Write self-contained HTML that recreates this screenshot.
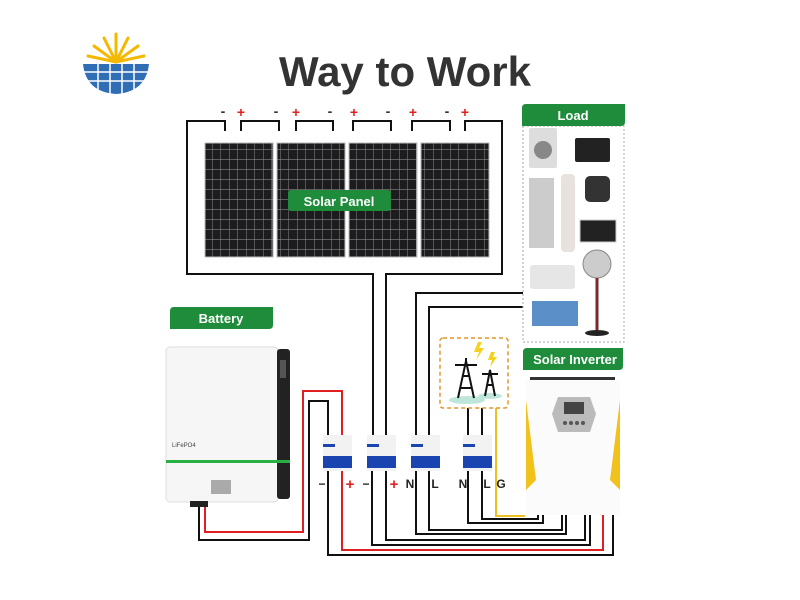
<!DOCTYPE html>
<html><head><meta charset="utf-8"><style>
html,body{margin:0;padding:0;background:#fff;}
svg{display:block;font-family:"Liberation Sans",sans-serif;}
</style></head><body>
<svg width="800" height="600" viewBox="0 0 800 600" xmlns="http://www.w3.org/2000/svg">
<defs>
<pattern id="cells" width="8.5" height="10" patternUnits="userSpaceOnUse">
<rect width="8.5" height="10" fill="#1c1c1e"/>
<rect x="8" width="0.6" height="10" fill="#8a8a8a"/>
<rect y="9.4" width="8.5" height="0.6" fill="#8a8a8a"/>
</pattern>
</defs>
<!-- logo -->
<g>
<g stroke="#f5b800" stroke-width="3" stroke-linecap="round">
<line x1="116" y1="62" x2="116" y2="34"/><line x1="116" y1="62" x2="104" y2="38"/><line x1="116" y1="62" x2="128" y2="38"/>
<line x1="116" y1="62" x2="94" y2="46"/><line x1="116" y1="62" x2="138" y2="46"/><line x1="116" y1="62" x2="88" y2="56"/><line x1="116" y1="62" x2="144" y2="56"/>
</g>
<path d="M83 64 H149 Q146 92 116 94 Q86 92 83 64Z" fill="#2f6db5"/>
<g stroke="#fff" stroke-width="1.5"><line x1="83" y1="72" x2="149" y2="72"/><line x1="84" y1="81" x2="148" y2="81"/><line x1="98" y1="64" x2="98" y2="94"/><line x1="110" y1="64" x2="110" y2="94"/><line x1="122" y1="64" x2="122" y2="94"/><line x1="134" y1="64" x2="134" y2="94"/></g>
</g>
<text x="405" y="86" text-anchor="middle" font-size="42" font-weight="bold" fill="#333">Way to Work</text>

<!-- solar panels -->
<rect x="205" y="143" width="68" height="114" fill="url(#cells)" stroke="#bbb"/>
<rect x="277" y="143" width="68" height="114" fill="url(#cells)" stroke="#bbb"/>
<rect x="349" y="143" width="68" height="114" fill="url(#cells)" stroke="#bbb"/>
<rect x="421" y="143" width="68" height="114" fill="url(#cells)" stroke="#bbb"/>
<rect x="288" y="190" width="103" height="21" rx="3" fill="#1e8c3a"/>
<text x="339" y="206" text-anchor="middle" font-size="13" font-weight="bold" fill="#fff">Solar Panel</text>

<!-- wires -->
<g fill="none" stroke="#111" stroke-width="2">
<polyline points="225,131 225,121 187,121 187,274 373,274 373,437"/>
<polyline points="241,131 241,121 279,121 279,131"/>
<polyline points="296,131 296,121 333,121 333,131"/>
<polyline points="353,131 353,121 391,121 391,131"/>
<polyline points="412,131 412,121 450,121 450,131"/>
<polyline points="465,131 465,121 502,121 502,274 386,274 386,437"/>
<polyline points="416,437 416,293 523,293"/>
<polyline points="429,437 429,307 523,307"/>
<polyline points="468,437 468,408"/>
<polyline points="482,437 482,408"/>
<polyline points="199,505 199,540 309,540 309,401 328,401 328,437"/>
<polyline points="328,470 328,555 613,555 613,515"/>
<polyline points="372,470 372,545 590,545 590,515"/>
<polyline points="386,470 386,540 585,540 585,515"/>
<polyline points="416,470 416,534 566,534 566,515"/>
<polyline points="429,470 429,530 562,530 562,515"/>
<polyline points="468,470 468,523 543,523 543,515"/>
<polyline points="482,470 482,519 538,519 538,515"/>
</g>
<g fill="none" stroke="#e02020" stroke-width="2">
<polyline points="205,505 205,532 303,532 303,391 342,391 342,437"/>
<polyline points="342,470 342,550 603,550 603,515"/>
</g>
<polyline points="496,408 496,516 525,516" fill="none" stroke="#f0c020" stroke-width="2"/>
<g font-size="14" font-weight="bold">
<text x="223" y="116" text-anchor="middle" fill="#333">-</text><text x="241" y="117" text-anchor="middle" fill="#d22">+</text>
<text x="276" y="116" text-anchor="middle" fill="#333">-</text><text x="296" y="117" text-anchor="middle" fill="#d22">+</text>
<text x="330" y="116" text-anchor="middle" fill="#333">-</text><text x="354" y="117" text-anchor="middle" fill="#d22">+</text>
<text x="388" y="116" text-anchor="middle" fill="#333">-</text><text x="413" y="117" text-anchor="middle" fill="#d22">+</text>
<text x="447" y="116" text-anchor="middle" fill="#333">-</text><text x="465" y="117" text-anchor="middle" fill="#d22">+</text>
</g>

<!-- load box -->
<rect x="523" y="126" width="101" height="216" fill="#fff" stroke="#aaa" stroke-dasharray="2,2"/>
<path d="M522 108 Q522 104 526 104 H625 V122 Q625 126 621 126 H522Z" fill="#1e8c3a"/>
<text x="573" y="120" text-anchor="middle" font-size="13" font-weight="bold" fill="#fff">Load</text>
<rect x="529" y="128" width="28" height="40" rx="2" fill="#ddd"/><circle cx="543" cy="150" r="9" fill="#888"/>
<rect x="575" y="138" width="35" height="24" rx="2" fill="#222"/>
<rect x="529" y="178" width="25" height="70" fill="#ccc"/>
<rect x="561" y="174" width="14" height="78" rx="4" fill="#e8e2df"/>
<rect x="585" y="176" width="25" height="26" rx="5" fill="#333"/>
<rect x="580" y="220" width="36" height="22" fill="#222" stroke="#ccc"/>
<rect x="530" y="265" width="45" height="24" rx="3" fill="#e6e6e6"/>
<circle cx="597" cy="264" r="14" fill="#ccc" stroke="#888"/>
<line x1="597" y1="278" x2="597" y2="330" stroke="#7a2a2a" stroke-width="3"/>
<ellipse cx="597" cy="333" rx="12" ry="3" fill="#222"/>
<rect x="532" y="301" width="46" height="25" fill="#5a8fc8"/>

<!-- grid -->
<rect x="440" y="338" width="68" height="70" rx="3" fill="#fff" stroke="#e0952a" stroke-width="1.5" stroke-dasharray="4,3"/>
<ellipse cx="467" cy="400" rx="18" ry="4" fill="#bfe6da"/><ellipse cx="490" cy="396" rx="12" ry="3" fill="#bfe6da"/>
<g stroke="#111" stroke-width="2" fill="none">
<path d="M458 398 L466 361 L474 398 M460 388 H472 M462 376 H470 M455 365 H477 M466 361 V358"/>
<path d="M485 396 L490 370 L495 396 M482 374 H498 M487 385 H493"/>
</g>
<path d="M478 342 L474 352 L479 352 L476 360 L484 348 L479 348 L482 342Z" fill="#f2d21c"/>
<path d="M491 352 L488 360 L492 360 L490 367 L497 357 L493 357 L495 352Z" fill="#f2d21c"/>

<!-- inverter -->
<path d="M523 352 Q523 348 527 348 H623 V366 Q623 370 619 370 H523Z" fill="#1e8c3a"/>
<text x="575" y="364" text-anchor="middle" font-size="13" font-weight="bold" fill="#fff">Solar Inverter</text>
<rect x="530" y="377" width="85" height="3" fill="#333"/>
<rect x="526" y="380" width="94" height="135" fill="#fbfbfb"/>
<path d="M526 400 L536 480 L526 490Z" fill="#f2c21c"/>
<path d="M620 400 L610 480 L620 490Z" fill="#f2c21c"/>
<polygon points="558,397 590,397 596,414 590,432 558,432 552,414" fill="#bbb"/>
<rect x="564" y="402" width="20" height="12" fill="#444"/>
<g fill="#555"><circle cx="565" cy="423" r="2"/><circle cx="571" cy="423" r="2"/><circle cx="577" cy="423" r="2"/><circle cx="583" cy="423" r="2"/></g>

<!-- battery -->
<path d="M170 311 Q170 307 174 307 H273 V325 Q273 329 269 329 H170Z" fill="#1e8c3a"/>
<text x="221" y="323" text-anchor="middle" font-size="13" font-weight="bold" fill="#fff">Battery</text>
<rect x="166" y="347" width="112" height="155" rx="4" fill="#f6f6f6" stroke="#ddd"/>
<rect x="277" y="349" width="13" height="150" rx="3" fill="#222"/>
<rect x="280" y="360" width="6" height="18" fill="#555"/>
<rect x="166" y="461" width="0" height="0"/>
<rect x="166" y="460" width="124" height="3" fill="#28b040"/>
<text x="172" y="447" font-size="6" fill="#444">LiFePO4</text>
<rect x="211" y="480" width="20" height="14" fill="#aaa"/>
<rect x="190" y="501" width="18" height="6" fill="#222"/>

<!-- breakers -->
<g>
<rect x="323" y="435" width="29" height="36" fill="#f2f2f2"/><rect x="323" y="456" width="29" height="12" fill="#1a45b0"/>
<rect x="367" y="435" width="29" height="36" fill="#f2f2f2"/><rect x="367" y="456" width="29" height="12" fill="#1a45b0"/>
<rect x="411" y="435" width="29" height="36" fill="#f2f2f2"/><rect x="411" y="456" width="29" height="12" fill="#1a45b0"/>
<rect x="463" y="435" width="29" height="36" fill="#f2f2f2"/><rect x="463" y="456" width="29" height="12" fill="#1a45b0"/>
<g fill="#1a45b0"><rect x="323" y="444" width="12" height="3"/><rect x="367" y="444" width="12" height="3"/><rect x="411" y="444" width="12" height="3"/><rect x="463" y="444" width="12" height="3"/></g>
</g>
<g font-size="12" font-weight="bold">
<text x="322" y="488" text-anchor="middle" fill="#222">−</text>
<text x="350" y="489" text-anchor="middle" fill="#d22" font-size="15">+</text>
<text x="366" y="488" text-anchor="middle" fill="#222">−</text>
<text x="394" y="489" text-anchor="middle" fill="#d22" font-size="15">+</text>
<text x="410" y="488" text-anchor="middle" fill="#222">N</text>
<text x="435" y="488" text-anchor="middle" fill="#222">L</text>
<text x="463" y="488" text-anchor="middle" fill="#222">N</text>
<text x="487" y="488" text-anchor="middle" fill="#222">L</text>
<text x="501" y="488" text-anchor="middle" fill="#222">G</text>
</g>
</svg>
</body></html>
